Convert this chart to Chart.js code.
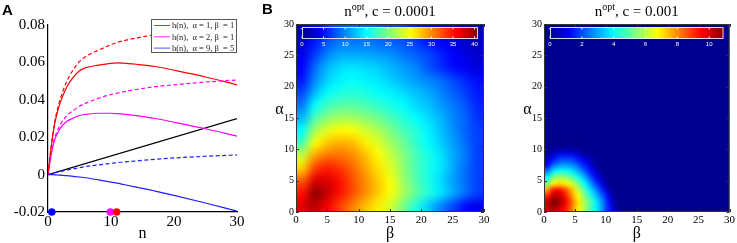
<!DOCTYPE html>
<html>
<head>
<meta charset="utf-8">
<script src="https://cdn.jsdelivr.net/npm/chart.js@4.4.1/dist/chart.umd.min.js"></script>
<style>
html, body { margin: 0; padding: 0; background: #fff; }
#wrap { position: relative; width: 737px; height: 243px; overflow: hidden; }
.panel { position: absolute; top: 0; height: 243px; }
.tag { position: absolute; font: bold 15px "Liberation Sans", Arial, sans-serif; color: #000; }
</style>
</head>
<body>
<div id="wrap">
  <div class="panel" style="left:0;width:250px"><canvas id="chartA"></canvas></div>
  <div class="panel" style="left:255px;width:240px"><canvas id="chartB1"></canvas></div>
  <div class="panel" style="left:500px;width:237px"><canvas id="chartB2"></canvas></div>
  <div class="tag" style="left:2px;top:1px">A</div>
  <div class="tag" style="left:262px;top:0px">B</div>
</div>
<script>
// ---- panel A: h(n) with and without the sampling cost
const nVals      = [0, 0.5, 1, 1.5, 2, 3, 4, 5, 6, 8, 10, 11, 12, 14, 17, 20, 25, 30];
const redGain    = [0, 0.015, 0.027, 0.035, 0.041, 0.050, 0.056, 0.0605, 0.0632, 0.0665, 0.0695, 0.0707, 0.0716, 0.073, 0.0748, 0.0758, 0.0772, 0.078];
const redNet     = [0, 0.0145, 0.026, 0.0335, 0.039, 0.047, 0.052, 0.0555, 0.0572, 0.0585, 0.0595, 0.0597, 0.0596, 0.059, 0.0578, 0.0558, 0.0522, 0.048];
const magGain    = [0, 0.011, 0.019, 0.0235, 0.027, 0.0315, 0.0342, 0.0366, 0.0382, 0.0408, 0.0428, 0.0436, 0.0443, 0.0455, 0.047, 0.048, 0.0495, 0.0506];
const magNet     = [0, 0.0105, 0.018, 0.022, 0.025, 0.0285, 0.0302, 0.0316, 0.0322, 0.0328, 0.0328, 0.0326, 0.0323, 0.0315, 0.030, 0.028, 0.0245, 0.0206];
const blueGain   = [0, 0.0005, 0.0009, 0.0013, 0.0017, 0.0024, 0.0031, 0.0037, 0.0043, 0.0052, 0.006, 0.0064, 0.0067, 0.0073, 0.0082, 0.0089, 0.0098, 0.0105];
const blueNet    = [0, 0, -0.0001, -0.0002, -0.0003, -0.0006, -0.0009, -0.0013, -0.0017, -0.0028, -0.004, -0.0046, -0.0053, -0.0067, -0.0088, -0.0111, -0.0152, -0.0195];
const costN      = [0, 30];
const costV      = [0, 0.03];
const optN       = [0.6, 9.9, 10.9];
const optColors  = ['#0000ff', '#ff00ff', '#ff0000'];
const legendText = ['h(n),  \u03b1 = 1, \u03b2  = 1', 'h(n),  \u03b1 = 2, \u03b2  = 1', 'h(n),  \u03b1 = 9, \u03b2  = 5'];
const legendCols = ['#ff2020', '#ff20ff', '#5050ff'];
const xTicksA    = [0, 10, 20, 30];
const yTicksA    = [-0.02, 0, 0.02, 0.04, 0.06, 0.08];

// ---- panel B: n_opt over (beta, alpha); rows go up in alpha, columns go right in beta
const betaB1  = [1, 3, 5, 7, 9, 11, 13, 15, 17, 19, 21, 23, 25, 27, 29];
const alphaB1 = [1, 3, 5, 7, 9, 11, 13, 15, 17, 19, 21, 23, 25, 27, 29];
const noptB1 = [
  [37, 38.5, 36, 33, 30.5, 28, 26, 23.5, 20, 16.5, 13, 10, 7.5, 5, 3.5],
  [35, 40, 38, 35, 32.5, 30, 27.5, 25, 22, 19, 16.5, 14, 11.5, 9, 7],
  [32, 37, 37, 35, 32.5, 30, 27.5, 25, 21.5, 18.5, 16, 13.5, 11, 9, 7],
  [27, 33, 34.5, 33.5, 31.5, 29, 26.5, 24, 21, 18, 16, 14, 11.5, 9, 7],
  [23, 29, 31, 31, 30, 28, 25.5, 23, 20.5, 18, 16, 14, 11.5, 9.5, 7],
  [18, 25, 27.5, 28.5, 28, 26, 24, 21.5, 19.5, 17, 15, 13, 11, 9, 7],
  [15, 21.5, 24, 25.5, 25, 23.5, 22, 20, 18, 16.5, 14.5, 12.5, 10.5, 8.5, 7],
  [12, 18, 20.5, 21.5, 21.5, 20.5, 19.5, 18, 16.5, 15, 13.5, 12, 10, 8.5, 6.5],
  [9.5, 15, 17.5, 18.5, 18.5, 18, 17, 16, 15, 13.5, 12.5, 11, 9.5, 8, 6],
  [7.5, 12, 15, 16, 16.5, 16, 15, 14.5, 13.5, 12.5, 11.5, 10, 8.5, 7, 5.5],
  [5.5, 10, 13, 14.5, 15, 14.5, 14, 13, 12, 11, 10, 9, 7.5, 6, 5],
  [4.5, 9, 12, 13.5, 14, 13.5, 13, 12, 11, 10, 8, 6.5, 5, 4, 3],
  [3.5, 7, 10, 11.5, 11.5, 11.5, 11, 10.5, 9.5, 8.5, 7.5, 6, 4.5, 3.5, 2.5],
  [2.5, 5.5, 8, 9.5, 9.5, 9.5, 9, 8.5, 8, 7, 5.5, 4.5, 3.5, 2.5, 2],
  [2, 4.5, 6.5, 8, 8.5, 8.5, 8, 7.5, 7, 5.5, 4.5, 3.5, 2.5, 2, 1.5]
];
const betaB2  = [0.5, 1.5, 2.5, 3.5, 4.5, 5.5, 6.5, 7.5, 8.5, 9.5, 10.5, 11.5];
const alphaB2 = [0.5, 1.5, 2.5, 3.5, 4.5, 5.5, 6.5, 7.5, 8.5, 9.5, 10.5, 11.5];
const noptB2 = [
  [10, 10.5, 10, 9.3, 8.2, 6.9, 5.8, 4.8, 3.8, 2.7, 1.5, 0.3],
  [10.2, 10.9, 10.5, 9.6, 8.4, 7.1, 5.9, 4.9, 3.8, 2.6, 1.4, 0.2],
  [9.3, 10.3, 10.2, 9.3, 8.0, 6.7, 5.5, 4.4, 3.3, 2.2, 1.0, 0],
  [7.8, 9.3, 9.4, 8.7, 7.5, 6.2, 4.9, 3.7, 2.6, 1.5, 0.4, 0],
  [5.3, 6.9, 7.2, 6.9, 6.3, 5.3, 4.1, 2.9, 1.8, 0.8, 0, 0],
  [4.0, 5.4, 5.8, 5.6, 5.0, 4.2, 3.2, 2.1, 1.1, 0.3, 0, 0],
  [2.5, 3.7, 4.2, 4.2, 3.8, 3.1, 2.3, 1.4, 0.6, 0, 0, 0],
  [1.2, 2.3, 2.8, 2.9, 2.7, 2.2, 1.5, 0.8, 0.2, 0, 0, 0],
  [0.5, 1.3, 1.8, 1.9, 1.8, 1.4, 0.9, 0.4, 0, 0, 0, 0],
  [0, 0.4, 0.7, 0.8, 0.7, 0.4, 0.1, 0, 0, 0, 0, 0],
  [0, 0, 0, 0, 0, 0, 0, 0, 0, 0, 0, 0],
  [0, 0, 0, 0, 0, 0, 0, 0, 0, 0, 0, 0]
];
const axisTicksB = [0, 5, 10, 15, 20, 25, 30];
const cbTicksB1 = [0, 5, 10, 15, 20, 25, 30, 35, 40];
const cbTicksB2 = [0, 2, 4, 6, 8, 10];
const cbMaxB1 = 40.8;
const cbMaxB2 = 10.9;

const SERIF = '"Liberation Serif", "Times New Roman", serif';
const SANS = '"Liberation Sans", Arial, sans-serif';

// matlab jet(64)
function jet(t) {
  t = Math.min(1, Math.max(0, t));
  const k = 1 + 63 * t;
  const cl = v => Math.min(1, Math.max(0, v));
  return [
    255 * cl(Math.min((k - 24) / 16, (72 - k) / 16)),
    255 * cl(Math.min((k - 8) / 16, (56 - k) / 16)),
    255 * cl(Math.min((k + 8) / 16, (40 - k) / 16))
  ];
}
function jetCss(t) {
  const c = jet(t);
  return 'rgb(' + Math.round(c[0]) + ',' + Math.round(c[1]) + ',' + Math.round(c[2]) + ')';
}

function pts(xs, ys) { return xs.map((x, i) => ({x: x, y: ys[i]})); }

function curve(ys, color, dashed) {
  return {
    data: pts(nVals, ys), showLine: true, borderColor: color, borderWidth: 1.2,
    borderDash: dashed ? [4, 2.5] : [], pointRadius: 0, cubicInterpolationMode: 'monotone'
  };
}

const legendA = {
  id: 'legendA',
  afterDatasetsDraw(chart) {
    const {ctx, chartArea: a} = chart;
    const w = 86, h = 34, left = a.right - w, top = a.top - 6;
    ctx.save();
    ctx.fillStyle = '#fff';
    ctx.fillRect(left, top, w, h);
    ctx.strokeStyle = '#555';
    ctx.lineWidth = 1;
    ctx.strokeRect(left + 0.5, top + 0.5, w - 1, h - 1);
    ctx.font = '8.5px ' + SERIF;
    ctx.textBaseline = 'middle';
    legendText.forEach((t, i) => {
      const y = top + 6.5 + i * 11.3;
      ctx.strokeStyle = legendCols[i];
      ctx.lineWidth = 1;
      ctx.beginPath(); ctx.moveTo(left + 3, y); ctx.lineTo(left + 19, y); ctx.stroke();
      ctx.fillStyle = '#222';
      ctx.fillText(t, left + 21, y + 0.5);
    });
    ctx.restore();
  }
};

new Chart(document.getElementById('chartA'), {
  type: 'scatter',
  data: {
    datasets: [
      curve(redGain, '#ff0000', true),
      curve(magGain, '#ff00ff', true),
      curve(blueGain, '#2020ff', true),
      curve(redNet, '#ff0000', false),
      curve(magNet, '#ff00ff', false),
      curve(blueNet, '#2020ff', false),
      { data: pts(costN, costV), showLine: true, borderColor: '#000', borderWidth: 1.2, pointRadius: 0 },
      { data: optN.map(n => ({x: n, y: yTicksA[0]})), showLine: false, clip: false,
        pointRadius: 3.6, pointBackgroundColor: optColors, pointBorderColor: optColors, pointBorderWidth: 0.5 }
    ]
  },
  options: {
    responsive: true, maintainAspectRatio: false, animation: false,
    layout: { padding: { top: 25, right: 13, left: 0, bottom: 0 } },
    plugins: { legend: { display: false }, tooltip: { enabled: false } },
    scales: {
      x: {
        type: 'linear', min: 0, max: 30,
        afterBuildTicks: s => { s.ticks = xTicksA.map(v => ({value: v})); },
        afterFit: s => { s.height = 31; },
        ticks: { font: { family: SERIF, size: 15 }, color: '#000', padding: 1, maxRotation: 0 },
        grid: { display: false, drawTicks: false },
        border: { display: true, color: '#000', width: 1.2 },
        title: { display: true, text: 'n', font: { family: SERIF, size: 16 }, color: '#000', padding: 0 }
      },
      y: {
        type: 'linear', min: -0.02, max: 0.08,
        afterBuildTicks: s => { s.ticks = yTicksA.map(v => ({value: v})); },
        afterFit: s => { s.width = 48; },
        ticks: { font: { family: SERIF, size: 15 }, color: '#000', padding: 3,
                 callback: v => (Math.abs(v) < 1e-9 ? '0' : v.toFixed(2)) },
        grid: { display: false, drawTicks: false },
        border: { display: true, color: '#000', width: 1.2 }
      }
    }
  },
  plugins: [legendA]
});

// heat map drawn from the grid through the x/y scales
function heatPlugin(cfg) {
  return {
    id: 'heat',
    beforeDatasetsDraw(chart) {
      const {ctx, chartArea: a, scales: {x, y}} = chart;
      ctx.save();
      ctx.fillStyle = jetCss(0);
      ctx.fillRect(a.left, a.top, a.width, a.height);
      const nx = cfg.xs.length, ny = cfg.ys.length;
      const off = document.createElement('canvas');
      off.width = nx; off.height = ny;
      const octx = off.getContext('2d');
      const img = octx.createImageData(nx, ny);
      for (let j = 0; j < ny; j++) {
        for (let i = 0; i < nx; i++) {
          const c = jet(cfg.z[j][i] / cfg.max);
          const p = ((ny - 1 - j) * nx + i) * 4;
          img.data[p] = c[0]; img.data[p + 1] = c[1]; img.data[p + 2] = c[2]; img.data[p + 3] = 255;
        }
      }
      octx.putImageData(img, 0, 0);
      const hx = (cfg.xs[1] - cfg.xs[0]) / 2, hy = (cfg.ys[1] - cfg.ys[0]) / 2;
      const x0 = x.getPixelForValue(cfg.xs[0] - hx), x1 = x.getPixelForValue(cfg.xs[nx - 1] + hx);
      const y0 = y.getPixelForValue(cfg.ys[ny - 1] + hy), y1 = y.getPixelForValue(cfg.ys[0] - hy);
      ctx.beginPath(); ctx.rect(a.left, a.top, a.width, a.height); ctx.clip();
      ctx.imageSmoothingEnabled = true;
      ctx.imageSmoothingQuality = 'high';
      ctx.drawImage(off, x0, y0, x1 - x0, y1 - y0);
      ctx.restore();
    },
    afterDatasetsDraw(chart) {
      const {ctx, chartArea: a, scales: {x, y}} = chart;
      ctx.save();
      // colour bar inside the top of the plot
      const L = a.left + 6, R = a.right - 6, T = a.top + 3, H = 12;
      for (let px = 0; px < R - L; px++) {
        ctx.fillStyle = jetCss((px + 0.5) / (R - L));
        ctx.fillRect(L + px, T, 1, H);
      }
      ctx.strokeStyle = 'rgba(235,235,245,0.9)';
      ctx.lineWidth = 1;
      ctx.strokeRect(L + 0.5, T + 0.5, R - L - 1, H - 1);
      ctx.fillStyle = '#fff';
      ctx.font = '6px ' + SANS;
      ctx.textAlign = 'center';
      ctx.textBaseline = 'middle';
      cfg.cbTicks.forEach(v => {
        const px = L + (R - L) * v / cfg.max;
        ctx.fillRect(px - 0.5, T + 1, 1, 1.5);
        ctx.fillRect(px - 0.5, T + H - 2.5, 1, 1.5);
        ctx.fillText(String(v), px, T + H + 5);
      });
      // box and inward ticks
      ctx.strokeStyle = '#333';
      ctx.lineWidth = 1;
      ctx.strokeRect(a.left + 0.5, a.top + 0.5, a.width - 1, a.height - 1);
      axisTicksB.forEach(v => {
        const px = Math.round(x.getPixelForValue(v)) + 0.5;
        const py = Math.round(y.getPixelForValue(v)) + 0.5;
        ctx.beginPath();
        ctx.moveTo(px, a.bottom); ctx.lineTo(px, a.bottom - 3);
        ctx.moveTo(px, a.top); ctx.lineTo(px, a.top + 3);
        ctx.moveTo(a.left, py); ctx.lineTo(a.left + 3, py);
        ctx.moveTo(a.right, py); ctx.lineTo(a.right - 3, py);
        ctx.stroke();
      });
      // title n^opt, c = ...
      ctx.fillStyle = '#000';
      ctx.textAlign = 'left';
      ctx.textBaseline = 'alphabetic';
      const big = '15px ' + SERIF, small = '10px ' + SERIF;
      ctx.font = big; const wn = ctx.measureText('n').width; const wr = ctx.measureText(cfg.rest).width;
      ctx.font = small; const wo = ctx.measureText('opt').width;
      let tx = (a.left + a.right) / 2 - (wn + wo + wr) / 2;
      ctx.font = big; ctx.fillText('n', tx, 16);
      ctx.font = small; ctx.fillText('opt', tx + wn, 9.5);
      ctx.font = big; ctx.fillText(cfg.rest, tx + wn + wo, 16);
      // upright alpha label
      ctx.font = '16px ' + SERIF;
      ctx.textAlign = 'center';
      ctx.textBaseline = 'middle';
      ctx.fillText('\u03b1', a.left - 16.5, 110);
      ctx.restore();
    }
  };
}

function heatChart(id, cfg, leftW, rightPad) {
  new Chart(document.getElementById(id), {
    type: 'scatter',
    data: { datasets: [] },
    options: {
      responsive: true, maintainAspectRatio: false, animation: false,
      layout: { padding: { top: 24, right: rightPad, left: 0, bottom: 0 } },
      plugins: { legend: { display: false }, tooltip: { enabled: false } },
      scales: {
        x: {
          type: 'linear', min: 0, max: 30,
          afterBuildTicks: s => { s.ticks = axisTicksB.map(v => ({value: v})); },
          afterFit: s => { s.height = 31; },
          ticks: { font: { family: SERIF, size: 11 }, color: '#000', padding: 2, maxRotation: 0 },
          grid: { display: false, drawTicks: false },
          border: { display: false },
          title: { display: true, text: '\u03b2', font: { family: SERIF, size: 16 }, color: '#000', padding: 0 }
        },
        y: {
          type: 'linear', min: 0, max: 30,
          afterBuildTicks: s => { s.ticks = axisTicksB.map(v => ({value: v})); },
          afterFit: s => { s.width = leftW; },
          ticks: { font: { family: SERIF, size: 10 }, color: '#000', padding: 2 },
          grid: { display: false, drawTicks: false },
          border: { display: false }
        }
      }
    },
    plugins: [heatPlugin(cfg)]
  });
}

heatChart('chartB1', { xs: betaB1, ys: alphaB1, z: noptB1, max: cbMaxB1, cbTicks: cbTicksB1, rest: ', c = 0.0001' }, 41, 11);
heatChart('chartB2', { xs: betaB2, ys: alphaB2, z: noptB2, max: cbMaxB2, cbTicks: cbTicksB2, rest: ', c = 0.001' }, 44, 7);
</script>
</body>
</html>
